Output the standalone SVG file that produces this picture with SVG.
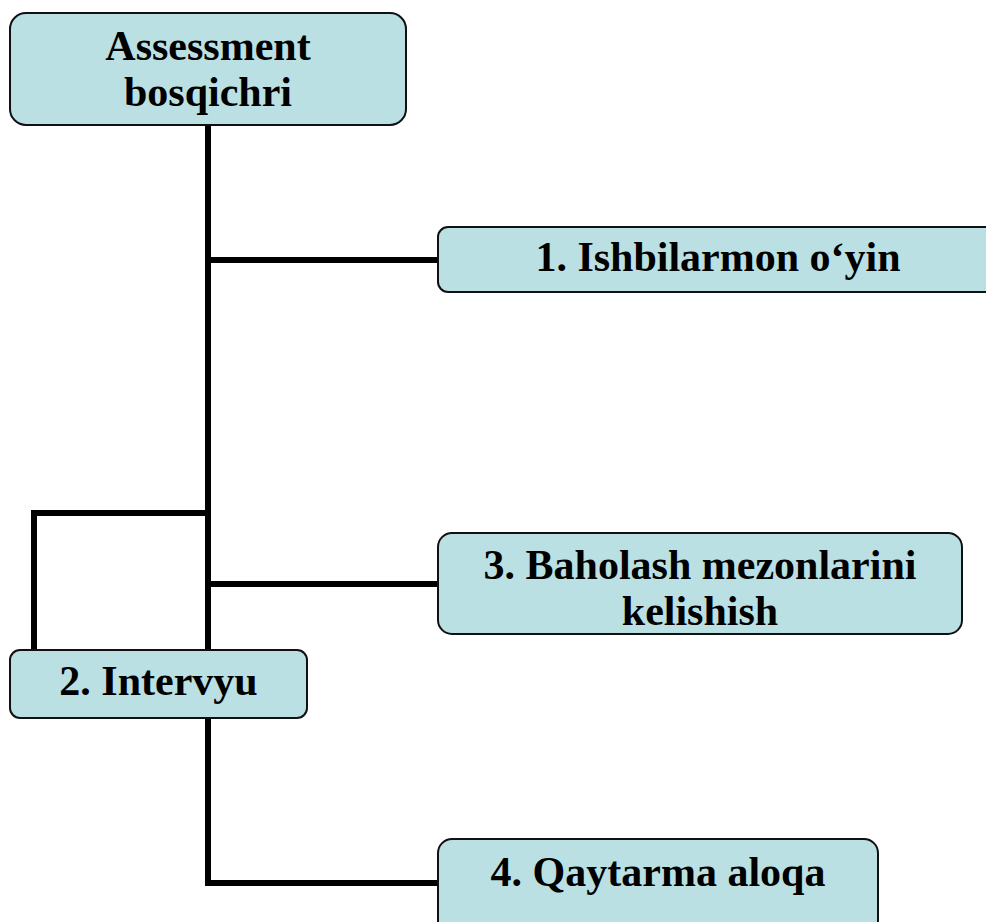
<svg xmlns="http://www.w3.org/2000/svg" width="986" height="922" viewBox="0 0 986 922">
<style>
.box{fill:#bae0e3;stroke:#111;stroke-width:2}
.lbl{font-family:"Liberation Serif","Times New Roman",serif;font-weight:bold;font-size:42px;fill:#000;text-anchor:middle}
.conn{fill:none;stroke:#000;stroke-width:6;stroke-linejoin:miter}
</style>
<rect width="986" height="922" fill="#fff"/>
<g id="connectors">
<path class="conn" d="M208 125 V650"/>
<path class="conn" d="M208 260 H438"/>
<path class="conn" d="M208 584 H438"/>
<path class="conn" d="M208 513 H34 V650"/>
<path class="conn" d="M208 718 V883 H438"/>
</g>
<g id="node-assessment">
<rect class="box" x="10" y="13" width="396" height="112" rx="16"/>
<text class="lbl" x="208" y="60">Assessment</text>
<text class="lbl" x="208" y="106">bosqichri</text>
</g>
<g id="node-1">
<rect class="box" x="438" y="227" width="560" height="65" rx="10"/>
<text class="lbl" x="718" y="271">1. Ishbilarmon o‘yin</text>
</g>
<g id="node-3">
<rect class="box" x="438" y="533" width="524" height="101" rx="14"/>
<text class="lbl" x="700" y="579">3. Baholash mezonlarini</text>
<text class="lbl" x="700" y="625">kelishish</text>
</g>
<g id="node-2">
<rect class="box" x="10" y="650" width="297" height="68" rx="10"/>
<text class="lbl" x="158.5" y="695">2. Intervyu</text>
</g>
<g id="node-4">
<rect class="box" x="438" y="839" width="440" height="100" rx="14"/>
<text class="lbl" x="658" y="886">4. Qaytarma aloqa</text>
</g>
</svg>
